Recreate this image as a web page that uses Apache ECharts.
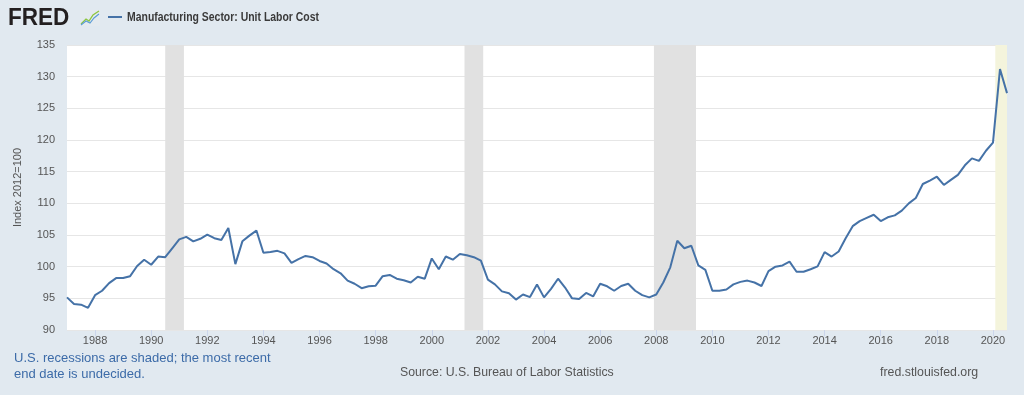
<!DOCTYPE html>
<html>
<head>
<meta charset="utf-8">
<script src="https://cdn.jsdelivr.net/npm/echarts@6/dist/echarts.min.js"></script>
<style>
html,body{margin:0;padding:0;background:#e1e9f0;}
#chart{width:1024px;height:395px;}
</style>
</head>
<body>
<div id="chart"></div>
<script>
// Quarterly series, first observation 1987 Q1
const startYear = 1987;
const unitLaborCost = [
  95.15, 94.1, 94.0, 93.5, 95.5, 96.2, 97.4, 98.2, 98.2, 98.5,
  100.1, 101.1, 100.3, 101.6, 101.5, 102.9, 104.3, 104.7, 104.0, 104.4,
  105.05, 104.5, 104.2, 106.1, 100.4, 104.0, 104.9, 105.7, 102.2, 102.3,
  102.5, 102.1, 100.6, 101.2, 101.7, 101.5, 100.9, 100.5, 99.6, 98.95,
  97.8, 97.3, 96.6, 96.9, 97.0, 98.5, 98.7, 98.1, 97.85, 97.5,
  98.4, 98.1, 101.3, 99.6, 101.6, 101.1, 102.0, 101.8, 101.5, 100.95,
  97.95, 97.2, 96.1, 95.8, 94.8, 95.6, 95.2, 97.2, 95.15, 96.5,
  98.1, 96.7, 95.0, 94.9, 95.85, 95.3, 97.3, 96.9, 96.2, 96.95,
  97.3, 96.2, 95.5, 95.15, 95.6, 97.5, 99.9, 104.1, 102.9, 103.3,
  100.2, 99.5, 96.2, 96.2, 96.4, 97.2, 97.6, 97.8, 97.5, 96.95,
  99.3, 100.0, 100.2, 100.8, 99.2, 99.2, 99.6, 100.05, 102.3, 101.6,
  102.4, 104.5, 106.4, 107.2, 107.7, 108.2, 107.2, 107.8, 108.1, 108.85,
  110.0, 110.85, 113.05, 113.6, 114.2, 112.9, 113.7, 114.5, 116.0, 117.1,
  116.7, 118.3, 119.6, 131.2, 127.4
];
// Recessions as [start year, start month, end year, end month]
const recessions = [
  [1990, 7, 1991, 3],
  [2001, 3, 2001, 11],
  [2007, 12, 2009, 6]
];
const currentRecession = [2020, 2, 2020, 7];
const xTickYears = [1988,1990,1992,1994,1996,1998,2000,2002,2004,2006,2008,2010,2012,2014,2016,2018,2020];
const yTicks = [90, 95, 100, 105, 110, 115, 120, 125, 130, 135];

const seriesName = 'Manufacturing Sector: Unit Labor Cost';
const yAxisName = 'Index 2012=100';

const ym = (y, m) => y + (m - 1) / 12;
const points = unitLaborCost.map((v, i) => [startYear + i / 4, v]);
const lastX = startYear + (unitLaborCost.length - 1) / 4;

const FONT = '"Liberation Sans", Arial, sans-serif';

const chart = echarts.init(document.getElementById('chart'), null, {renderer: 'canvas'});
chart.setOption({
  backgroundColor: '#e1e9f0',
  animation: false,
  grid: {left: 67, right: 17, top: 45, bottom: 65, show: true, backgroundColor: '#ffffff', borderWidth: 0},
  xAxis: {
    type: 'value',
    min: startYear,
    max: lastX,
    axisLine: {show: false},
    splitLine: {show: false},
    axisTick: {show: true, length: 6, lineStyle: {color: '#ccd6eb'}, customValues: xTickYears},
    axisLabel: {
      customValues: xTickYears,
      formatter: v => String(Math.round(v)),
      color: '#555', fontSize: 11, fontFamily: FONT, margin: 5
    }
  },
  yAxis: {
    type: 'value',
    min: yTicks[0],
    max: yTicks[yTicks.length - 1],
    interval: 5,
    name: yAxisName,
    nameLocation: 'middle',
    nameGap: 44,
    nameTextStyle: {color: '#555', fontSize: 11, fontFamily: FONT},
    axisLine: {show: false},
    axisTick: {show: false},
    splitLine: {lineStyle: {color: '#e6e6e6', width: 1}},
    axisLabel: {color: '#555', fontSize: 11, fontFamily: FONT, margin: 12}
  },
  series: [{
    name: seriesName,
    type: 'line',
    data: points,
    showSymbol: false,
    symbol: 'none',
    lineStyle: {color: '#4572a7', width: 2},
    z: 5,
    markArea: {
      silent: true,
      data: recessions.map(r => [
        {xAxis: ym(r[0], r[1]), itemStyle: {color: '#e1e1e1'}},
        {xAxis: ym(r[2], r[3])}
      ]).concat([[
        {xAxis: ym(currentRecession[0], currentRecession[1]), itemStyle: {color: '#f4f4dc'}},
        {xAxis: ym(currentRecession[2], currentRecession[3])}
      ]])
    }
  }],
  graphic: [
    {type: 'text', x: 8, y: 7, scaleX: 0.98, style: {text: 'FRED', font: 'bold 23px ' + FONT, fill: '#231f20'}},
    {type: 'rect', shape: {x: 80, y: 10, width: 20, height: 16}, style: {fill: '#e4eaef'}},
    {type: 'polyline', shape: {points: [[81, 24], [86, 19], [89, 21], [93, 15], [99, 11]]}, style: {stroke: '#8dc63f', lineWidth: 1.3, fill: null}},
    {type: 'polyline', shape: {points: [[81, 25], [86, 21], [90, 23], [94, 18], [99, 14]]}, style: {stroke: '#5a9bd5', lineWidth: 1.1, fill: null}},
    {type: 'line', shape: {x1: 108, y1: 17, x2: 122, y2: 17}, style: {stroke: '#4572a7', lineWidth: 2}},
    {type: 'text', x: 127, y: 12, scaleX: 0.87, style: {text: seriesName, font: 'bold 12px ' + FONT, fill: '#3a3a3a'}},
    {type: 'text', left: 14, top: 350, style: {text: 'U.S. recessions are shaded; the most recent\nend date is undecided.', font: '13px ' + FONT, fill: '#3c6ba8', lineHeight: 16}},
    {type: 'text', x: 400, y: 366, scaleX: 0.945, style: {text: 'Source: U.S. Bureau of Labor Statistics', font: '13px ' + FONT, fill: '#555'}},
    {type: 'text', x: 880, y: 366, scaleX: 0.95, style: {text: 'fred.stlouisfed.org', font: '13px ' + FONT, fill: '#555'}}
  ]
});
</script>
</body>
</html>
